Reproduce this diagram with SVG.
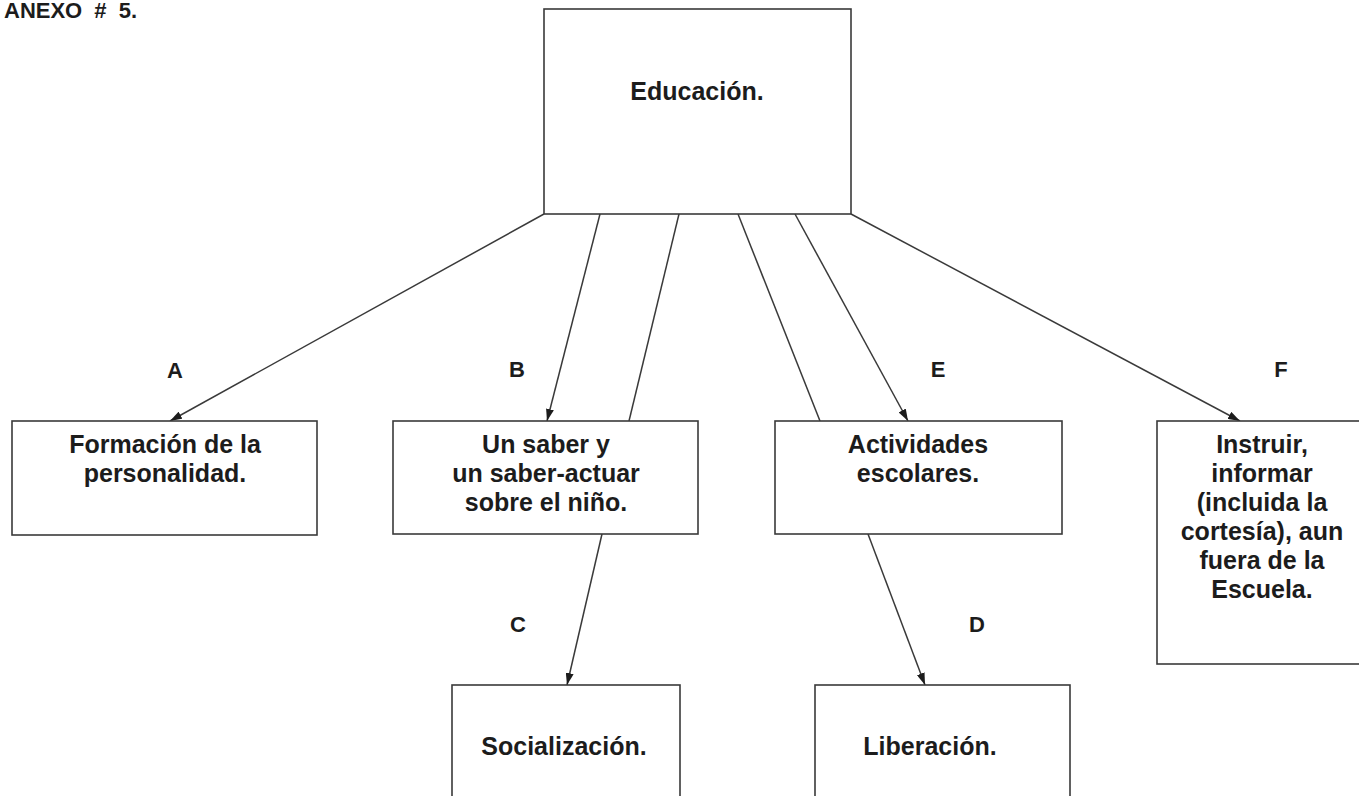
<svg xmlns="http://www.w3.org/2000/svg" width="1359" height="796" viewBox="0 0 1359 796">
<style>
.box{fill:#fff;stroke:#3a3a3a;stroke-width:1.6}
.t{font-family:"Liberation Sans",Arial,sans-serif;font-weight:bold;font-size:25px;fill:#1c1c1c;text-anchor:middle}
.lbl{font-family:"Liberation Sans",Arial,sans-serif;font-weight:bold;font-size:22px;fill:#1c1c1c;text-anchor:middle}
.ln{stroke:#3a3a3a;stroke-width:1.5;fill:none}
.arr{marker-end:url(#ah)}
</style>
<defs>
<marker id="ah" viewBox="0 0 12 8" refX="12" refY="4" markerWidth="12" markerHeight="8" markerUnits="userSpaceOnUse" orient="auto">
<path d="M0,0 L12,4 L0,8 z" fill="#1c1c1c"/>
</marker>
</defs>
<rect width="1359" height="796" fill="#fff"/>
<text x="4" y="18" font-family="Liberation Sans, Arial, sans-serif" font-weight="bold" font-size="22" fill="#1c1c1c" word-spacing="6">ANEXO # 5.</text>

<g id="connectors">
<line class="ln arr" x1="544" y1="214" x2="170" y2="421"/>
<line class="ln arr" x1="600" y1="214" x2="547" y2="421"/>
<line class="ln" x1="679" y1="214" x2="629" y2="421"/>
<line class="ln" x1="738" y1="214" x2="820" y2="421"/>
<line class="ln arr" x1="795" y1="214" x2="908" y2="421"/>
<line class="ln arr" x1="851" y1="214" x2="1240" y2="421"/>
<line class="ln arr" x1="602" y1="534" x2="567" y2="685"/>
<line class="ln arr" x1="868" y1="534" x2="925" y2="685"/>
<text class="lbl" x="175" y="378">A</text>
<text class="lbl" x="517" y="377">B</text>
<text class="lbl" x="938" y="377">E</text>
<text class="lbl" x="1281" y="377">F</text>
<text class="lbl" x="518" y="632">C</text>
<text class="lbl" x="977" y="632">D</text>
</g>

<g id="educacion">
<rect class="box" x="544" y="9" width="307" height="205"/>
<text class="t" x="697" y="100">Educación.</text>
</g>

<g id="formacion">
<rect class="box" x="12" y="421" width="305" height="114"/>
<text class="t" x="165" y="453">Formación de la</text>
<text class="t" x="165" y="482">personalidad.</text>
</g>

<g id="saber">
<rect class="box" x="393" y="421" width="305" height="113"/>
<text class="t" x="546" y="453">Un saber y</text>
<text class="t" x="546" y="482">un saber-actuar</text>
<text class="t" x="546" y="511">sobre el niño.</text>
</g>

<g id="actividades">
<rect class="box" x="775" y="421" width="287" height="113"/>
<text class="t" x="918" y="453">Actividades</text>
<text class="t" x="918" y="482">escolares.</text>
</g>

<g id="instruir">
<rect class="box" x="1157" y="421" width="210" height="243"/>
<text class="t" x="1262" y="453">Instruir,</text>
<text class="t" x="1262" y="482">informar</text>
<text class="t" x="1262" y="511">(incluida la</text>
<text class="t" x="1262" y="540">cortesía), aun</text>
<text class="t" x="1262" y="569">fuera de la</text>
<text class="t" x="1262" y="598">Escuela.</text>
</g>

<g id="socializacion">
<rect class="box" x="452" y="685" width="228" height="130"/>
<text class="t" x="564" y="755">Socialización.</text>
</g>

<g id="liberacion">
<rect class="box" x="815" y="685" width="255" height="130"/>
<text class="t" x="930" y="755">Liberación.</text>
</g>
</svg>
